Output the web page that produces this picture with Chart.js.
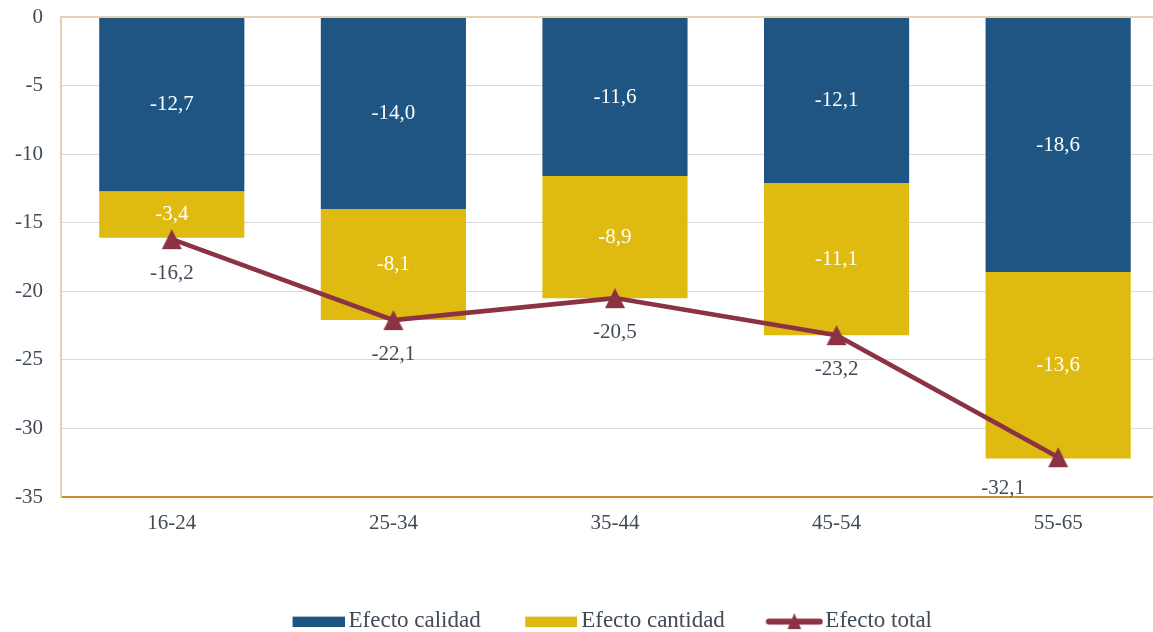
<!DOCTYPE html>
<html>
<head>
<meta charset="utf-8">
<script src="https://cdn.jsdelivr.net/npm/chart.js@4.4.1/dist/chart.umd.min.js"></script>
<style>
html,body{margin:0;padding:0;background:#ffffff;}
#wrap{position:relative;width:1153px;height:632px;}
</style>
</head>
<body>
<div id="wrap"><canvas id="c" width="1153" height="632"></canvas></div>
<script>
// ---- data ----
const categories = ['16-24', '25-34', '35-44', '45-54', '55-65'];
const seriesNames = ['Efecto calidad', 'Efecto cantidad', 'Efecto total'];
const efectoCalidad = [-12.7, -14.0, -11.6, -12.1, -18.6];
const efectoCantidad = [-3.4, -8.1, -8.9, -11.1, -13.6];
const efectoTotal = [-16.2, -22.1, -20.5, -23.2, -32.1];
const yMin = -35, yMax = 0, yStep = 5;

// ---- styles ----
const BLUE = '#1F5582';
const GOLD = '#DFBA10';
const WINE = '#8B3343';
const TEXT = '#404B56';
const FONT = "'Liberation Serif', 'Times New Roman', serif";
// label placement for the total line (dx, dy in px)
const lineLabelOffsets = [
  {dx: 0, dy: 34}, {dx: 0, dy: 34}, {dx: 0, dy: 34}, {dx: 0, dy: 34}, {dx: -55, dy: 31}
];

Chart.defaults.font.family = FONT;
Chart.defaults.color = TEXT;

function makeCanvas(w, h, draw) {
  const c = document.createElement('canvas');
  c.width = w; c.height = h;
  draw(c.getContext('2d'));
  return c;
}
const triMarker = makeCanvas(22, 22, g => {
  g.fillStyle = WINE;
  g.beginPath(); g.moveTo(11, 1); g.lineTo(21, 21); g.lineTo(1, 21); g.closePath(); g.fill();
});
const legendBox = color => makeCanvas(70, 11, g => { g.fillStyle = color; g.fillRect(18, 1, 52, 10); });
const legendLine = makeCanvas(74, 30, g => {
  g.strokeStyle = WINE; g.lineWidth = 6; g.lineCap = 'round';
  g.beginPath(); g.moveTo(19.5, 15.6); g.lineTo(70.5, 15.6); g.stroke();
  g.fillStyle = WINE;
  g.beginPath(); g.moveTo(45, 7); g.lineTo(51.8, 23); g.lineTo(38.2, 23); g.closePath(); g.fill();
});

const fmt = v => v.toFixed(1).replace('.', ',');
const toXY = arr => arr.map((v, i) => ({x: i, y: v}));

const valueLabels = {
  id: 'valueLabels',
  afterDatasetsDraw(chart) {
    const ctx = chart.ctx;
    ctx.save();
    ctx.font = '21px ' + FONT;
    ctx.textAlign = 'center';
    ctx.textBaseline = 'middle';
    chart.data.datasets.forEach((ds, di) => {
      const meta = chart.getDatasetMeta(di);
      meta.data.forEach((el, i) => {
        const txt = fmt(ds.data[i].y);
        if (ds.type === 'bar') {
          ctx.fillStyle = '#ffffff';
          ctx.fillText(txt, el.x, (el.y + el.base) / 2);
        } else {
          const o = lineLabelOffsets[i];
          ctx.fillStyle = TEXT;
          ctx.fillText(txt, el.x + o.dx, el.y + o.dy);
        }
      });
    });
    ctx.restore();
  }
};

const noEdgePadding = s => { s.paddingTop = 0; s.paddingBottom = 0; s.paddingLeft = 0; s.paddingRight = 0; };

new Chart(document.getElementById('c'), {
  type: 'bar',
  data: {
    datasets: [
      {type: 'bar', label: seriesNames[0], data: toXY(efectoCalidad), backgroundColor: BLUE, stack: 'bars', order: 1,
       barPercentage: 0.655, categoryPercentage: 1, borderWidth: 0},
      {type: 'bar', label: seriesNames[1], data: toXY(efectoCantidad), backgroundColor: GOLD, stack: 'bars', order: 1,
       barPercentage: 0.655, categoryPercentage: 1, borderWidth: 0},
      {type: 'line', label: seriesNames[2], data: toXY(efectoTotal), borderColor: WINE, backgroundColor: WINE,
       borderWidth: 4.5, stack: 'total', order: 0, tension: 0, fill: false,
       pointStyle: triMarker, pointRadius: 10, pointHoverRadius: 10, pointBorderWidth: 0}
    ]
  },
  options: {
    responsive: false,
    animation: false,
    events: [],
    layout: {autoPadding: false, padding: {top: 17, left: 0, right: 0, bottom: -10.6}},
    scales: {
      x: {
        type: 'linear', min: -0.5, max: 4.428, offset: false, stacked: true,
        grid: {display: false, drawTicks: false},
        border: {display: true, color: '#C9902C', width: 2},
        ticks: {
          stepSize: 1, includeBounds: false, autoSkip: false, maxRotation: 0, padding: 14,
          color: TEXT, font: {size: 21},
          callback: v => (Number.isInteger(v) && categories[v] !== undefined) ? categories[v] : ''
        },
        afterFit: s => { s.height = 78.6; noEdgePadding(s); }
      },
      y: {
        min: yMin, max: yMax, stacked: true,
        ticks: {stepSize: yStep, padding: 18, color: TEXT, font: {size: 21}},
        grid: {
          drawTicks: false,
          color: c => c.tick.value === 0 ? '#E3D1B1' : (c.tick.value === yMin ? '#C9902C' : '#D9D9D9'),
          lineWidth: c => (c.tick.value === 0 || c.tick.value === yMin) ? 2 : 1
        },
        border: {display: true, color: '#E3D1B1', width: 2},
        afterFit: s => { s.width = 61; noEdgePadding(s); }
      }
    },
    plugins: {
      tooltip: {enabled: false},
      legend: {
        position: 'bottom', fullSize: false, align: 'center',
        labels: {
          usePointStyle: true, pointStyleWidth: 55, padding: 34,
          color: TEXT, font: {size: 23},
          generateLabels: () => [
            {text: seriesNames[0], pointStyle: legendBox(BLUE), fillStyle: BLUE, strokeStyle: BLUE, lineWidth: 0, hidden: false, datasetIndex: 0, fontColor: TEXT},
            {text: seriesNames[1], pointStyle: legendBox(GOLD), fillStyle: GOLD, strokeStyle: GOLD, lineWidth: 0, hidden: false, datasetIndex: 1, fontColor: TEXT},
            {text: seriesNames[2], pointStyle: legendLine, fillStyle: WINE, strokeStyle: WINE, lineWidth: 0, hidden: false, datasetIndex: 2, fontColor: TEXT}
          ]
        }
      }
    }
  },
  plugins: [valueLabels]
});
</script>
</body>
</html>
